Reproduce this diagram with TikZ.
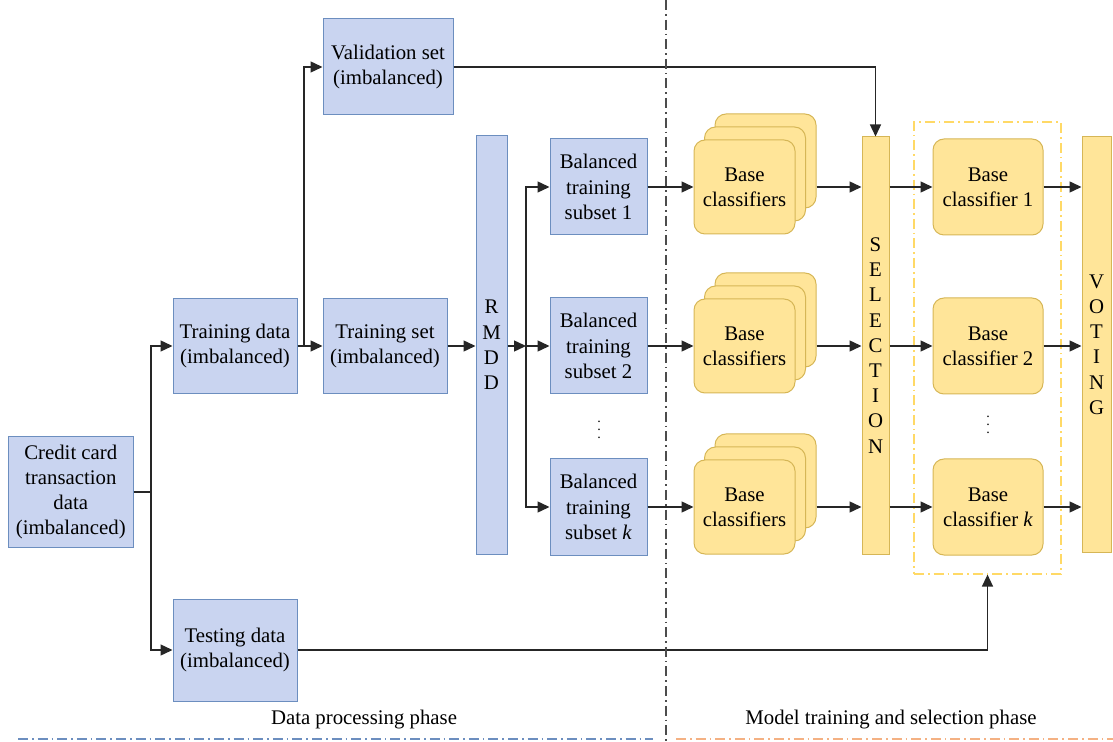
\documentclass[tikz,border=0pt]{standalone}
\usepackage{fontspec}
\setmainfont{Liberation Serif}
\usetikzlibrary{arrows.meta}
\definecolor{boxblue}{RGB}{201,212,240}
\definecolor{lineblue}{RGB}{108,142,191}
\definecolor{boxyellow}{RGB}{255,229,153}
\definecolor{lineyellow}{RGB}{214,182,86}
\definecolor{dashyellow}{RGB}{255,217,102}
\definecolor{phaseorange}{RGB}{244,177,131}
\tikzset{
    arr/.style={-{Triangle[length=6pt,width=5.5pt]},line width=0.7pt,black!85},
    bluebox/.style={draw=lineblue,fill=boxblue,line width=0.5pt,align=center,inner sep=0pt},
    yellowbar/.style={draw=lineyellow,fill=boxyellow,line width=0.5pt,align=center,inner sep=0pt},
    classbox/.style={yellowbar,rounded corners=5.5pt},
    dashdot/.style={dash pattern=on 5pt off 2pt on 0.8pt off 2pt}
}
\begin{document}
\begin{tikzpicture}[x=0.5pt,y=-0.5pt,font=\fontsize{10.4}{12.6}\selectfont]
    \useasboundingbox (0,0) rectangle (1113,742);
    % Data processing phase
    \node[bluebox,minimum width=62.2pt,minimum height=55.5pt] (credit) at (70.8,492)
        {Credit card\\transaction\\data\\(imbalanced)};
    \node[bluebox,minimum width=62pt,minimum height=47.5pt] (traindata) at (235,346)
        {Training data\\(imbalanced)};
    \node[bluebox,minimum width=62pt,minimum height=51pt] (testdata) at (235,650)
        {Testing data\\(imbalanced)};
    \node[bluebox,minimum width=65pt,minimum height=48pt] (valid) at (388,67)
        {Validation set\\(imbalanced)};
    \node[bluebox,minimum width=62pt,minimum height=47.5pt] (trainset) at (385,346)
        {Training set\\(imbalanced)};
    \node[bluebox,minimum width=15.5pt,minimum height=209pt] (rmdd) at (491.5,345)
        {R\\M\\D\\D};
    \coordinate (split1) at (151,492);
    \coordinate (split2) at (304,346);
    \coordinate (split3) at (526,346);
    \draw[arr] (credit.east) -- (split1) |- (traindata.west);
    \draw[arr] (split1) |- (testdata.west);
    \draw[arr] (traindata.east) -- (trainset.west);
    \draw[arr] (split2) |- (valid.west);
    \draw[arr] (trainset.east) -- (rmdd.west |- trainset.east);
    % Model training and selection phase
    \node[yellowbar,minimum width=13.5pt,minimum height=208.5pt] (sel) at (875.5,345.5)
        {S\\E\\L\\E\\C\\T\\I\\O\\N};
    \node[yellowbar,minimum width=14.5pt,minimum height=208pt] (vote) at (1096.5,344.5)
        {V\\O\\T\\I\\N\\G};
    \node[draw=dashyellow,dashdot,line width=0.6pt,minimum width=73.5pt,minimum height=226pt]
        (selbox) at (987.5,348) {};
    \foreach \y/\n/\lab in {187/1/1,346/2/2,507/k/\textit{k}} {
        \node[bluebox,minimum width=48.5pt,minimum height=48pt] (sub\n) at (598.5,\y)
            {Balanced\\training\\subset \lab};
        \node[classbox,minimum width=50.5pt,minimum height=47pt] (bcc\n) at (765.5,\y-26) {};
        \node[classbox,minimum width=50.5pt,minimum height=47pt] (bcb\n) at (755,\y-13) {};
        \node[classbox,minimum width=50.5pt,minimum height=47pt] (bca\n) at (744.5,\y)
            {Base\\classifiers};
        \node[classbox,minimum width=55pt,minimum height=48pt] (bcl\n) at (988,\y)
            {Base\\classifier \lab};
        \draw[arr] (split3) |- (sub\n.west);
        \draw[arr] (sub\n.east) -- (bca\n.west);
        \draw[arr] (bcc\n.east |- bca\n.east) -- (sel.west |- bca\n.east);
        \draw[arr] (sel.east |- bcl\n.west) -- (bcl\n.west);
        \draw[arr] (bcl\n.east) -- (vote.west |- bcl\n.east);
    }
    \draw[arr] (rmdd.east |- split3) -- (split3);
    \node[font=\fontsize{7}{8}\selectfont] (dots1) at (599,424) {$\vdots$};
    \node[font=\fontsize{7}{8}\selectfont] (dots2) at (988,419) {$\vdots$};
    \draw[arr] (valid.east) -| (sel.north);
    \draw[arr] (testdata.east) -| (selbox.south);
    % Phases
    \draw[black!70,dashdot,line width=0.6pt] (666,0) -- (666,742);
    \node (dataphase) at (364,720) {Data processing phase};
    \node (modelphase) at (891,720) {Model training and selection phase};
    \draw[lineblue,dashdot,line width=0.6pt] (18,739) -- (653,739);
    \draw[phaseorange,dashdot,line width=0.6pt] (676,739) -- (1113,739);
\end{tikzpicture}
\end{document}
